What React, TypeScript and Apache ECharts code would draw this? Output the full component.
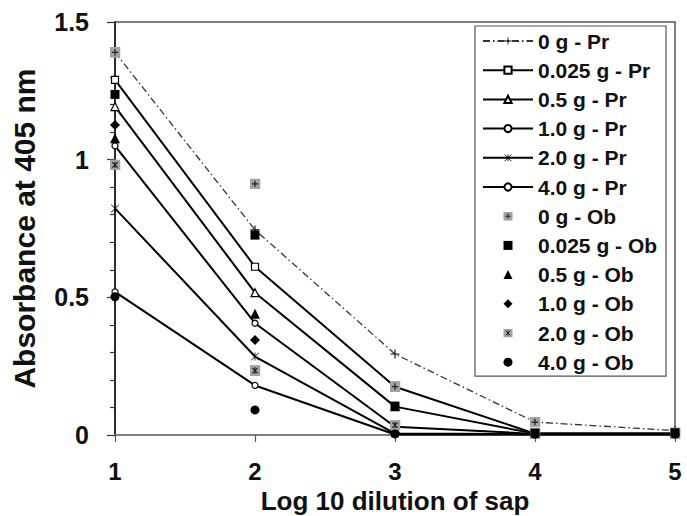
import React, { useEffect, useRef } from "react";
import * as echarts from "echarts";

// ---------- data ----------
const xValues = [1, 2, 3, 4, 5];
const xTickLabels = ["1", "2", "3", "4", "5"];
const yTickLabels = ["0", "0.5", "1", "1.5"];

const prNames = ["0 g - Pr", "0.025 g - Pr", "0.5 g - Pr", "1.0 g - Pr", "2.0 g - Pr", "4.0 g - Pr"];
const pr0 = [1.39, 0.745, 0.294, 0.047, 0.016];
const pr0025 = [1.29, 0.611, 0.175, 0.005, 0.005];
const pr05 = [1.193, 0.517, 0.103, 0.005, 0.005];
const pr10 = [1.05, 0.406, 0.03, 0.004, 0.004];
const pr20 = [0.823, 0.285, 0.005, 0.003, 0.003];
const pr40 = [0.52, 0.18, 0.002, 0.002, 0.002];

const obNames = ["0 g - Ob", "0.025 g - Ob", "0.5 g - Ob", "1.0 g - Ob", "2.0 g - Ob", "4.0 g - Ob"];
const ob0 = [1.39, 0.912, 0.176, 0.047, 0.008];
const ob0025 = [1.237, 0.726, 0.105, 0.007, 0.008];
const ob05 = [1.078, 0.44, 0.02, 0.005, 0.005];
const ob10 = [1.126, 0.345, 0.01, 0.005, 0.005];
const ob20 = [0.981, 0.234, 0.036, 0.005, 0.005];
const ob40 = [0.502, 0.091, 0.004, 0.003, 0.003];

// ---------- symbols ----------
const FONT = "'Liberation Sans', Arial, Helvetica, sans-serif";
const plusPath = "path://M4.4,0H5.6V10H4.4ZM0,4.4H10V5.6H0Z";
const starXPath =
  "path://M0.6,0L5,4.4L9.4,0L10,0.6L5.6,5L10,9.4L9.4,10L5,5.6L0.6,10L0,9.4L4.4,5L0,0.6ZM4.5,0H5.5V10H4.5Z";
const squarePath = "path://M0,0H10V10H0Z";
const trianglePath = "path://M5,0L10,10H0Z";
const diamondPath = "path://M5,0L10,5L5,10L0,5Z";
const svgImg = (inner: string) =>
  "image://data:image/svg+xml;charset=utf-8," +
  encodeURIComponent(
    `<svg xmlns='http://www.w3.org/2000/svg' width='12' height='12' viewBox='0 0 12 12'><rect width='12' height='12' fill='#a3a3a3'/>${inner}</svg>`
  );
const grayPlus = svgImg("<path d='M6 2.5v7M2.5 6h7' stroke='#222' stroke-width='1.4'/>");
const grayX = svgImg("<path d='M3 3l6 6M9 3l-6 6M6 2.5v7' stroke='#222' stroke-width='1.3'/>");

const toPts = (ys: number[]) => xValues.map((x, i) => [x, ys[i]]);

export default function App() {
  const ref = useRef<HTMLDivElement>(null);
  useEffect(() => {
    if (!ref.current) return;
    const chart = echarts.init(ref.current, null, { renderer: "svg" });

    const prData = [pr0, pr0025, pr05, pr10, pr20, pr40];
    const prSymbols = [plusPath, "rect", "triangle", "circle", starXPath, "circle"];
    const prSizes = [9, 7, 8, 6, 8, 6];
    const prSeries = prNames.map((name, i) => {
      const filledSym = i === 0 || i === 4;
      return {
        name,
        type: "line",
        data: toPts(prData[i]),
        symbol: prSymbols[i],
        symbolSize: prSizes[i],
        symbolKeepAspect: true,
        showSymbol: true,
        lineStyle:
          i === 0
            ? { color: "#333", width: 1.3, type: [7, 3, 1.5, 3] }
            : { color: "#000", width: 2, type: "solid" },
        itemStyle: filledSym
          ? { color: "#000", borderWidth: 0 }
          : { color: "#fff", borderColor: "#000", borderWidth: 1.2 },
        z: 2,
      };
    });

    const obData = [ob0, ob0025, ob05, ob10, ob20, ob40];
    const obSymbols = [grayPlus, squarePath, trianglePath, diamondPath, grayX, "circle"];
    const obSizes = [11, 9, 10, 10, 11, 9];
    const obSeries = obNames.map((name, i) => ({
      name,
      type: "scatter",
      data: toPts(obData[i]),
      symbol: obSymbols[i],
      symbolSize: obSizes[i],
      symbolKeepAspect: true,
      itemStyle: { color: "#000", borderWidth: 0, opacity: 1 },
      z: i === 1 ? 4 : 3,
    }));

    chart.setOption({
      animation: false,
      backgroundColor: "#fff",
      textStyle: { fontFamily: FONT },
      grid: {
        left: 115,
        right: 12,
        top: 22,
        bottom: 81,
        containLabel: false,
        outerBoundsMode: "none",
        show: true,
        borderColor: "#555",
        borderWidth: 1.5,
        backgroundColor: "transparent",
      },
      legend: {
        orient: "vertical",
        left: 475,
        top: 26,
        padding: [3, 9, 2, 7],
        itemWidth: 50,
        itemHeight: 9,
        itemGap: 5.2,
        symbolKeepAspect: true,
        borderColor: "#555",
        borderWidth: 1.2,
        backgroundColor: "#fff",
        data: [...prNames, ...obNames],
        textStyle: { fontFamily: FONT, fontSize: 21, fontWeight: "bold", color: "#111", lineHeight: 24 },
        selectedMode: false,
      },
      xAxis: {
        type: "value",
        min: 1,
        max: 5,
        interval: 1,
        name: "Log 10 dilution of sap",
        nameLocation: "middle",
        nameGap: 51,
        nameTextStyle: { fontFamily: FONT, fontSize: 26, fontWeight: "bold", color: "#111", lineHeight: 26 },
        axisLine: { show: true, lineStyle: { color: "#808080", width: 2 } },
        axisTick: { show: true, length: 7, lineStyle: { color: "#555", width: 1.2 } },
        axisLabel: {
          fontFamily: FONT,
          fontSize: 24,
          fontWeight: "bold",
          color: "#111",
          margin: 24,
          formatter: (v: number) => xTickLabels[xValues.indexOf(v)] ?? String(v),
        },
        splitLine: { show: false },
      },
      yAxis: {
        type: "value",
        min: 0,
        max: 1.5,
        interval: 0.5,
        name: "Absorbance at 405 nm",
        nameLocation: "middle",
        nameGap: 76,
        nameTextStyle: { fontFamily: FONT, fontSize: 30, fontWeight: "bold", color: "#111" },
        axisLine: { show: true, lineStyle: { color: "#111", width: 1.5 } },
        axisTick: { show: true, length: 8, lineStyle: { color: "#333", width: 1.2 } },
        minorTick: { show: true, splitNumber: 5, length: 5, lineStyle: { color: "#333", width: 1.2 } },
        axisLabel: {
          fontFamily: FONT,
          fontSize: 25,
          fontWeight: "bold",
          color: "#111",
          margin: 26,
          formatter: (v: number) => {
            const idx = Math.round(v / 0.5);
            return yTickLabels[idx] ?? String(v);
          },
        },
        splitLine: { show: false },
      },
      series: [...prSeries, ...obSeries],
    });

    return () => chart.dispose();
  }, []);

  return (
    <div
      ref={ref}
      style={{ position: "fixed", left: 0, top: 0, width: 687, height: 516, background: "#fff" }}
    />
  );
}
